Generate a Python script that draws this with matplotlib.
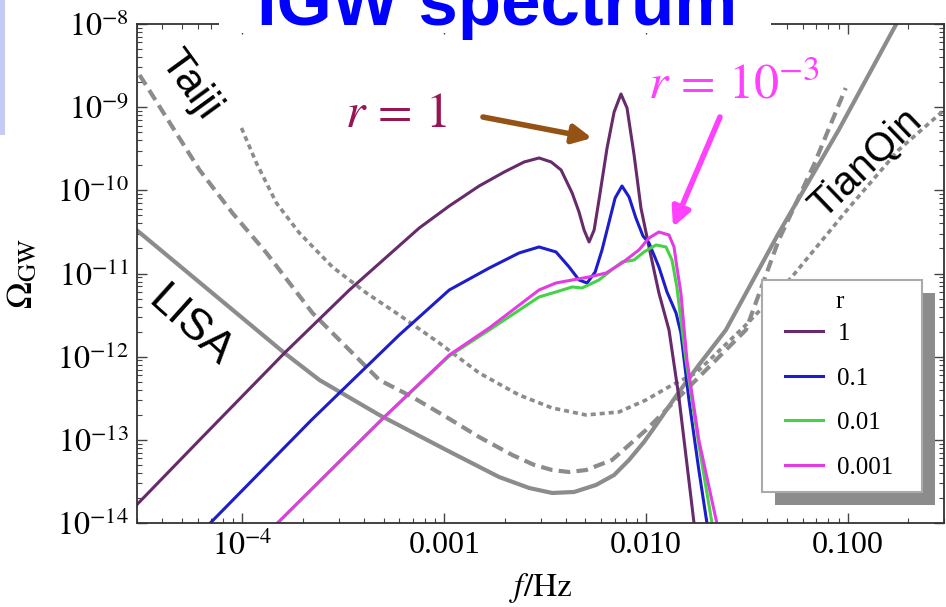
import numpy as np
import matplotlib
matplotlib.use("Agg")
import matplotlib.pyplot as plt
from matplotlib.patches import Rectangle
from matplotlib.ticker import LogLocator, NullFormatter

plt.rcParams['font.family'] = ['Liberation Serif', 'DejaVu Serif']
plt.rcParams['mathtext.fontset'] = 'stix'

# induced GW spectra, log10(f/Hz) and log10(Omega_GW)
r1_logf = [-4.525, -4.213, -3.792, -3.470, -3.124, -2.975, -2.827, -2.703, -2.604, -2.530,
           -2.470, -2.421, -2.366, -2.332, -2.307, -2.282, -2.257, -2.233, -2.193, -2.158,
           -2.124, -2.094, -2.059, -2.025, -1.985, -1.936, -1.886, -1.837, -1.762, -1.738]
r1_logo = [-13.783, -13.002, -11.956, -11.198, -10.453, -10.188, -9.948, -9.780, -9.659, -9.611,
           -9.659, -9.755, -10.032, -10.260, -10.477, -10.621, -10.477, -10.116, -9.491, -9.058,
           -8.842, -9.010, -9.575, -10.212, -10.681, -11.234, -11.679, -12.485, -14.000, -14.445]

r01_logf = [-4.213, -3.658, -3.223, -2.975, -2.777, -2.629, -2.530, -2.446, -2.381, -2.332,
            -2.292, -2.252, -2.218, -2.183, -2.153, -2.119, -2.084, -2.050, -2.015, -1.985,
            -1.936, -1.896, -1.851, -1.827, -1.787, -1.738, -1.698, -1.678]
r01_logo = [-14.132, -12.761, -11.739, -11.198, -10.934, -10.753, -10.681, -10.741, -10.922, -11.078,
            -11.114, -10.982, -10.717, -10.381, -10.092, -9.948, -10.080, -10.333, -10.549, -10.633,
            -10.922, -11.222, -11.475, -11.715, -12.521, -13.363, -14.000, -14.445]

r001_logf = [-3.866, -3.312, -2.975, -2.777, -2.530, -2.446, -2.366, -2.317, -2.233, -2.158,
             -2.119, -2.059, -2.010, -1.950, -1.901, -1.871, -1.847, -1.827, -1.802, -1.738,
             -1.673, -1.653]
r001_logo = [-14.096, -12.761, -11.992, -11.679, -11.282, -11.222, -11.162, -11.174, -11.078, -10.934,
             -10.862, -10.838, -10.741, -10.657, -10.681, -10.838, -11.162, -11.559, -12.040, -13.062,
             -14.000, -14.445]

r0001_logf = [-3.866, -3.312, -2.975, -2.777, -2.530, -2.446, -2.366, -2.282, -2.198, -2.119,
              -2.035, -1.985, -1.936, -1.886, -1.861, -1.847, -1.827, -1.812, -1.797, -1.738,
              -1.649, -1.629]
r0001_logo = [-14.096, -12.761, -11.980, -11.655, -11.198, -11.114, -11.078, -11.042, -10.994, -10.874,
              -10.717, -10.573, -10.501, -10.537, -10.681, -10.922, -11.234, -11.643, -12.040, -13.002,
              -14.000, -14.445]

# detector sensitivity curves
lisa_logf = [-4.525, -3.792, -3.619, -3.322, -2.990, -2.728, -2.579, -2.465, -2.356, -2.248,
             -2.158, -2.084, -2.010, -1.950, -1.837, -1.738, -1.604, -1.342, -1.045, -0.762,
             -0.723]
lisa_logo = [-10.477, -11.956, -12.280, -12.701, -13.122, -13.447, -13.579, -13.639, -13.627, -13.543,
             -13.423, -13.242, -13.026, -12.822, -12.425, -12.100, -11.679, -10.513, -9.275, -8.012,
             -7.832]

taiji_logf = [-4.510, -4.213, -4.050, -3.881, -3.653, -3.322, -3.158, -2.990, -2.827, -2.663,
              -2.554, -2.465, -2.381, -2.297, -2.168, -2.000, -1.886, -1.752, -1.505, -1.342,
              -1.168, -1.010]
taiji_logo = [-8.613, -9.755, -10.272, -10.753, -11.475, -12.280, -12.485, -12.725, -12.966, -13.182,
              -13.302, -13.363, -13.387, -13.363, -13.242, -12.882, -12.605, -12.280, -11.679, -10.597,
              -9.695, -8.770]

tianqin_logf = [-4.005, -3.931, -3.832, -3.718, -3.554, -3.386, -3.223, -3.025, -2.827, -2.629,
                -2.465, -2.297, -2.134, -2.000, -1.871, -1.752, -1.505, -1.277, -0.995, -0.748,
                -0.505]
tianqin_logo = [-9.250, -9.671, -10.152, -10.513, -10.922, -11.234, -11.499, -11.835, -12.196, -12.461,
                -12.617, -12.701, -12.665, -12.521, -12.341, -12.196, -11.619, -11.042, -10.212, -9.515,
                -8.998]

r_labels = ['1', '0.1', '0.01', '0.001']
r_colors = ['#672a6b', '#1d1dcc', '#46d246', '#e23ce2']

xtick_vals = [1e-4, 1e-3, 1e-2, 1e-1]
xtick_text = [r'$10^{-4}$', '0.001', '0.010', '0.100']
ytick_vals = [1e-14, 1e-13, 1e-12, 1e-11, 1e-10, 1e-9, 1e-8]
ytick_text = [r'$10^{-14}$', r'$10^{-13}$', r'$10^{-12}$', r'$10^{-11}$',
              r'$10^{-10}$', r'$10^{-9}$', r'$10^{-8}$']

W, H = 946, 607
fig = plt.figure(figsize=(W / 100, H / 100), dpi=100)
ax = fig.add_axes([137 / W, 1 - 523 / H, 807 / W, 499 / H])

gray = '#8c8c8c'
ax.plot(10 ** np.array(lisa_logf), 10 ** np.array(lisa_logo), color=gray, lw=3.0)
ax.plot(10 ** np.array(taiji_logf), 10 ** np.array(taiji_logo), color=gray, lw=3.0,
        dashes=(2.8, 1.5))
ax.plot(10 ** np.array(tianqin_logf), 10 ** np.array(tianqin_logo), color=gray, lw=2.6,
        dashes=(1.4, 1.1))

curves = [(r1_logf, r1_logo), (r01_logf, r01_logo), (r001_logf, r001_logo), (r0001_logf, r0001_logo)]
handles = []
for (lf, lo), c in zip(curves, r_colors):
    h, = ax.plot(10 ** np.array(lf), 10 ** np.array(lo), color=c, lw=2.2)
    handles.append(h)

ax.set_xscale('log')
ax.set_yscale('log')
ax.set_xlim(3e-5, 0.3)
ax.set_ylim(1e-14, 1e-8)

ax.set_xticks(xtick_vals)
ax.set_xticklabels(xtick_text)
ax.set_yticks(ytick_vals)
ax.set_yticklabels(ytick_text)
ax.xaxis.set_minor_locator(LogLocator(base=10, subs=np.arange(2, 10), numticks=20))
ax.yaxis.set_minor_locator(LogLocator(base=10, subs=np.arange(2, 10), numticks=20))
ax.xaxis.set_minor_formatter(NullFormatter())
ax.yaxis.set_minor_formatter(NullFormatter())
ax.tick_params(which='both', direction='in', top=True, right=True, color='#444444')
ax.tick_params(which='major', length=7, width=1.0, labelsize=23, pad=6)
ax.tick_params(which='minor', length=3.5, width=0.8)
for s in ax.spines.values():
    s.set_color('#333333')
    s.set_linewidth(1.3)

ax.set_xlabel(r'$f/\mathrm{Hz}$', fontsize=24)
ax.xaxis.set_label_coords(0.5, -0.096)
ax.set_ylabel(r'$\Omega_{\mathrm{GW}}$', fontsize=26)
ax.yaxis.set_label_coords(-0.12, 0.5)

# detector names
sans = ['Liberation Sans', 'DejaVu Sans']
ax.text(0.066, 0.878, 'Taiji', rotation=-54, fontsize=31, family=sans, transform=ax.transAxes,
        ha='center', va='center', rotation_mode='anchor')
ax.text(0.066, 0.393, 'LISA', rotation=-42, fontsize=32, family=sans, transform=ax.transAxes,
        ha='center', va='center', rotation_mode='anchor')
ax.text(0.902, 0.721, 'TianQin', rotation=44, fontsize=29, family=sans, transform=ax.transAxes,
        ha='center', va='center', rotation_mode='anchor')

# callouts for the two extreme r values
ax.text(0.2577, 0.7936, r'$r\,=\,1$', fontsize=36, color='#991552', transform=ax.transAxes,
        ha='left', va='baseline')
ax.annotate('', xy=(0.5638, 0.7715), xytext=(0.4287, 0.8136), xycoords='axes fraction',
            arrowprops=dict(arrowstyle='-|>', lw=4, color='#945214', mutation_scale=28,
                            shrinkA=0, shrinkB=0))
ax.text(0.633, 0.8517, r'$r\,=\,10^{-3}$', fontsize=36, color='#ff40ff', transform=ax.transAxes,
        ha='left', va='baseline')
ax.annotate('', xy=(0.6642, 0.5932), xytext=(0.7224, 0.8136), xycoords='axes fraction',
            arrowprops=dict(arrowstyle='-|>', lw=4, color='#ff40ff', mutation_scale=28,
                            shrinkA=0, shrinkB=0))

# legend box with drop shadow, entries from the legend itself
box_x0, box_x1, box_y0, box_y1 = 762, 922, 280, 492
ax.add_artist(Rectangle(((box_x0 + 13) / W, 1 - (box_y1 + 13) / H), (box_x1 - box_x0) / W,
                        (box_y1 - box_y0) / H, transform=fig.transFigure, facecolor='#8c8c8c',
                        edgecolor='none', zorder=5.4, clip_on=False))
ax.add_artist(Rectangle((box_x0 / W, 1 - box_y1 / H), (box_x1 - box_x0) / W,
                        (box_y1 - box_y0) / H, transform=fig.transFigure, facecolor='white',
                        edgecolor='#aaaaaa', lw=1.5, zorder=5.5, clip_on=False))
leg = ax.legend(handles, r_labels, title='r', loc='upper left',
                bbox_to_anchor=(785 / W, 1 - 291 / H), bbox_transform=fig.transFigure,
                borderaxespad=0, borderpad=0, fontsize=18, title_fontsize=18, frameon=False,
                handlelength=1.5, handletextpad=0.6, labelspacing=0.88)
leg._legend_box.sep = 7
leg.set_zorder(6)

# heading across the top frame
fig.add_artist(Rectangle((219 / W, 1 - 33 / H), (771 - 219) / W, 33 / H,
                         transform=fig.transFigure, facecolor='white', edgecolor='none', zorder=2))
fig.text(257 / W, 1 - 25 / H, 'IGW spectrum', fontsize=51, weight='bold', color='#0000ff',
         family=sans, ha='left', va='baseline', zorder=3)
fig.add_artist(Rectangle((0, 1 - 135 / H), 5 / W, 135 / H, transform=fig.transFigure,
                         facecolor='#c5cbf3', edgecolor='none', zorder=2))

fig.savefig('out.png', dpi=100)
